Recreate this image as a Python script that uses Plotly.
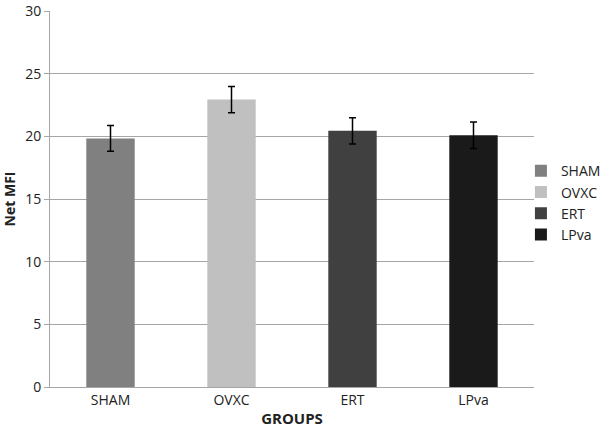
import plotly.graph_objects as go

categories = ["SHAM", "OVXC", "ERT", "LPva"]
values = [19.85, 22.95, 20.45, 20.1]
errors = [1.02, 1.05, 1.05, 1.05]
colors = ["#808080", "#c0c0c0", "#404040", "#1a1a1a"]
y_ticks = [0, 5, 10, 15, 20, 25, 30]

fig = go.Figure()
for c, v, e, col in zip(categories, values, errors, colors):
    fig.add_trace(go.Bar(
        x=[c], y=[v], name=c, width=0.4,
        marker=dict(color=col, line=dict(width=0)),
        error_y=dict(type="data", array=[e], visible=True, color="black", thickness=1.5, width=3.5),
    ))

font_family = "Open Sans, Noto Sans, sans-serif"
fig.update_layout(
    width=600, height=433,
    margin=dict(l=50, r=66, t=11, b=46, autoexpand=False),
    paper_bgcolor="white", plot_bgcolor="white",
    barmode="overlay",
    font=dict(family=font_family, size=13, color="#222"),
    showlegend=True,
    legend=dict(x=0.973, xanchor="left", y=0.49, yanchor="middle",
                bgcolor="rgba(0,0,0,0)",
                font=dict(size=14), tracegroupgap=0, itemwidth=30),
    xaxis=dict(categoryorder="array", categoryarray=categories,
               showline=True, linecolor="#a6a6a6", linewidth=1,
               ticks="", showgrid=False, tickfont=dict(size=14),
               title=dict(text="<b>GROUPS</b>", font=dict(size=15), standoff=5)),
    yaxis=dict(range=[0, 30.02], tickvals=y_ticks, showgrid=True, gridcolor="#a6a6a6",
               gridwidth=1, showline=True, linecolor="#a6a6a6", linewidth=1,
               ticks="outside", ticklen=5, tickcolor="#a6a6a6", zeroline=False,
               tickfont=dict(size=14), ticklabeloverflow="allow",
               title=dict(text="<b>Net MFI</b>", font=dict(size=14), standoff=7)),
)
fig.write_html("out.html", config={"displayModeBar": False},
               post_script="document.body.style.margin='0';document.body.style.overflow='hidden';")
